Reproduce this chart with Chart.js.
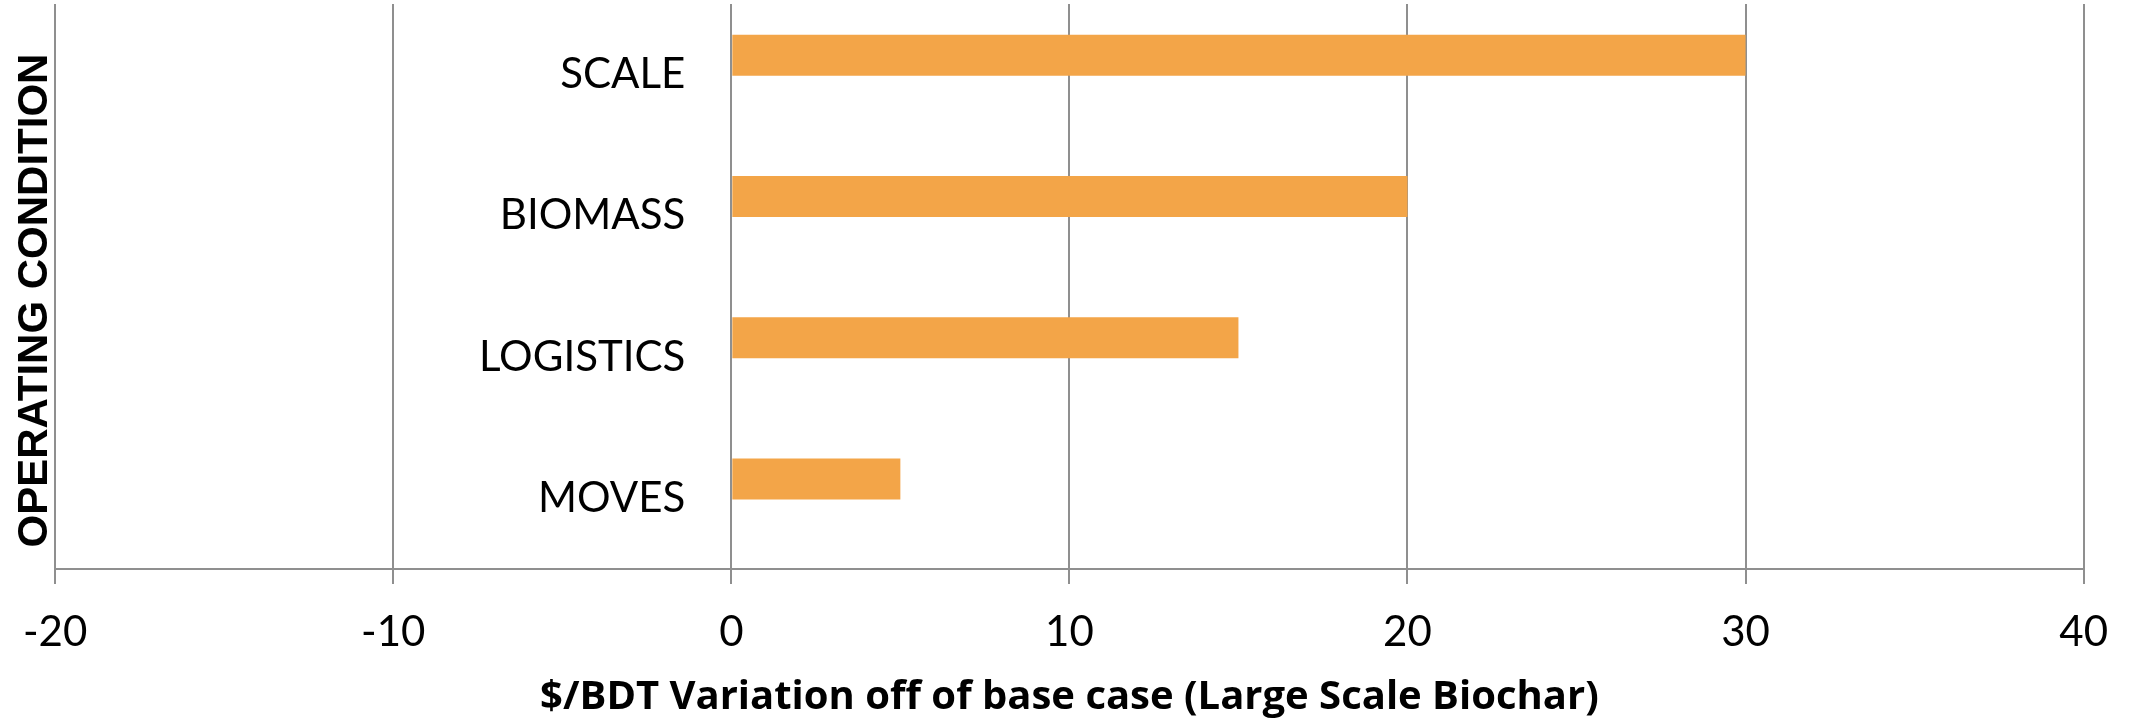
<!DOCTYPE html>
<html>
<head>
<meta charset="utf-8">
<title>Operating condition sensitivity</title>
<script src="https://cdn.jsdelivr.net/npm/chart.js@4/dist/chart.umd.min.js"></script>
<style>
  html, body { margin: 0; padding: 0; background: #ffffff; }
  #wrap { width: 2131px; height: 722px; position: relative; }
</style>
</head>
<body>
<div id="wrap"><canvas id="chart" width="2131" height="722"></canvas></div>
<script>
// Operating conditions (top to bottom) and their $/BDT variation off the base case
const categories = ['SCALE', 'BIOMASS', 'LOGISTICS', 'MOVES'];
const highValues = [30, 20, 15, 5];
const lowValues = [null, null, null, null];
const xTicks = [-20, -10, 0, 10, 20, 30, 40];

const xTitle = '$/BDT Variation off of base case (Large Scale Biochar)';
const yTitle = 'OPERATING CONDITION';

const BAR_COLOR = '#F3A548';
const GRID_COLOR = '#8f8f8f';
const LABEL_FONT = "Lato, 'Open Sans', sans-serif";
const XTITLE_FONT = "'Open Sans', Lato, sans-serif";
const YTITLE_FONT = "'Liberation Sans', Arial, sans-serif";

// Category labels hang just left of the zero line, right-aligned at this x value
const LABEL_ANCHOR = -1.36;

// Nudge the vertical axis title down a little so it sits lower along the plot
const yTitleShift = {
  id: 'yTitleShift',
  afterLayout(chart) {
    const s = chart.scales.yTitle;
    s.top += 14;
    s.bottom += 14;
  }
};

new Chart(document.getElementById('chart'), {
  type: 'bar',
  data: {
    labels: categories,
    datasets: [
      { label: 'High', data: highValues, backgroundColor: BAR_COLOR, borderWidth: 0,
        xAxisID: 'x', yAxisID: 'y', categoryPercentage: 0.547, barPercentage: 1.06 },
      { label: 'Low', data: lowValues, backgroundColor: BAR_COLOR, borderWidth: 0,
        xAxisID: 'x', yAxisID: 'y', categoryPercentage: 0.547, barPercentage: 1.06 }
    ]
  },
  plugins: [yTitleShift],
  options: {
    indexAxis: 'y',
    responsive: false,
    animation: false,
    events: [],
    layout: { padding: { top: 4, right: 43, left: 0, bottom: 0 } },
    plugins: { legend: { display: false }, tooltip: { enabled: false } },
    scales: {
      x: {
        type: 'linear',
        position: 'bottom',
        min: xTicks[0],
        max: xTicks[xTicks.length - 1],
        afterBuildTicks: (scale) => { scale.ticks = xTicks.map(v => ({ value: v })); },
        afterFit: (scale) => { scale.height = 153; },
        grid: { color: GRID_COLOR, lineWidth: 2, drawTicks: true, tickLength: 15, tickColor: GRID_COLOR },
        border: { display: true, color: GRID_COLOR, width: 2 },
        ticks: {
          color: '#000000',
          font: { family: LABEL_FONT, size: 42, lineHeight: 1.2 },
          padding: 23,
          maxRotation: 0,
          autoSkip: false
        },
        title: {
          display: true,
          text: xTitle,
          color: '#000000',
          font: { family: XTITLE_FONT, size: 40, weight: 'bold', lineHeight: 1.2 },
          padding: { top: 0, bottom: 0 }
        }
      },
      y: {
        type: 'category',
        position: { x: LABEL_ANCHOR },
        afterFit: (scale) => { scale.width = 0; scale.paddingTop = 0; scale.paddingBottom = 0; },
        grid: { display: false, drawTicks: false },
        border: { display: false },
        ticks: {
          color: '#000000',
          font: { family: LABEL_FONT, size: 42 },
          padding: 0,
          autoSkip: false
        }
      },
      yTitle: {
        type: 'category',
        position: 'left',
        afterFit: (scale) => { scale.width = 55; scale.paddingTop = 0; scale.paddingBottom = 0; },
        grid: { display: false, drawTicks: false },
        border: { display: false },
        ticks: { display: false },
        title: {
          display: true,
          text: yTitle,
          color: '#000000',
          font: { family: YTITLE_FONT, size: 42, weight: 'bold', lineHeight: 1 },
          padding: { top: 14, bottom: 0 }
        }
      }
    }
  }
});
</script>
</body>
</html>
